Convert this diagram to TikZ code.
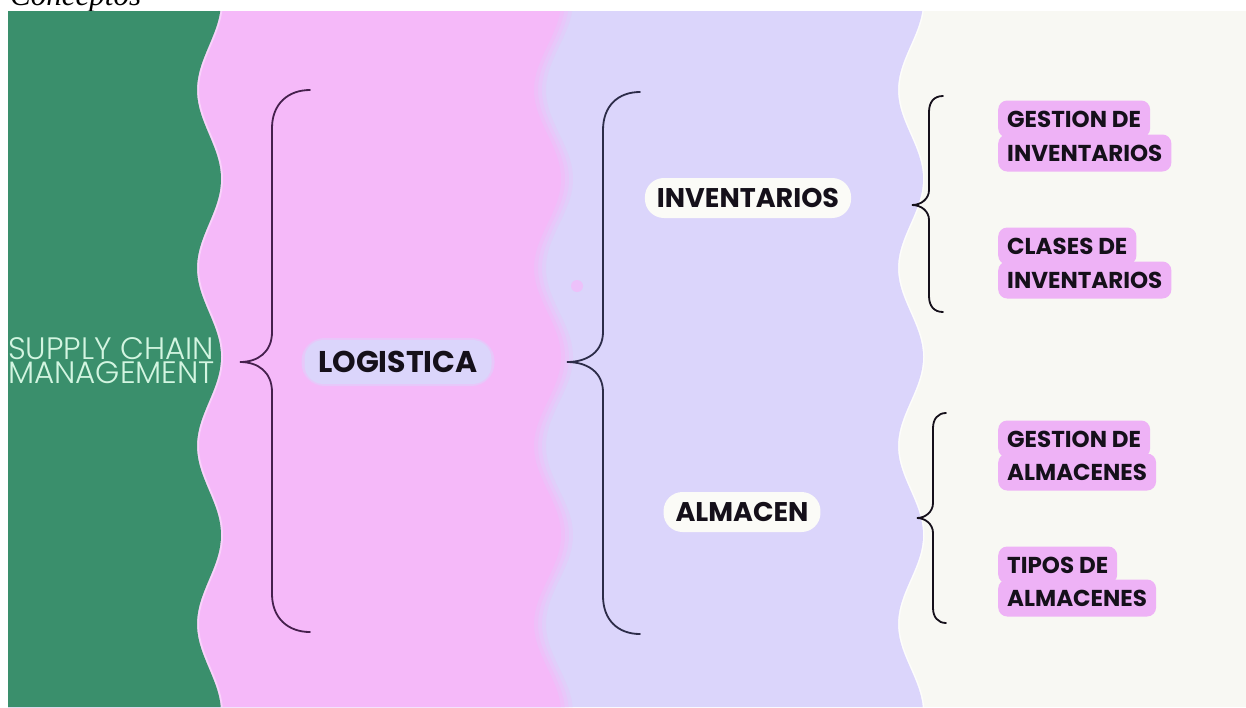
\documentclass[tikz,border=0pt]{standalone}
\usepackage{fontspec}
\setmainfont{Liberation Serif}
\newfontfamily\labfont{Poppins}
\IfFontExistsTF{Poppins Light}{\newfontfamily\scmfont{Poppins Light}}{\newfontfamily\scmfont{Lato}}
\definecolor{cgreen}{HTML}{3A8F6C}
\definecolor{cpink}{HTML}{F5B9F9}
\definecolor{clav}{HTML}{DBD5FB}
\definecolor{coff}{HTML}{F8F8F3}
\definecolor{cmint}{HTML}{D3F5E1}
\definecolor{cpill}{HTML}{EEB2F6}
\definecolor{cwpill}{HTML}{FBFBF7}
\definecolor{cplum}{HTML}{45204D}
\definecolor{cnavy}{HTML}{2C2C48}
\definecolor{ctext}{HTML}{15101A}
\begin{document}
\begin{tikzpicture}[x=1pt,y=-1pt,
  declare function={wg(\t)=209-12*cos((\t-90)*2.02247);
                    wp(\t)=553.5-13.5*cos((\t-90)*2.02247);
                    wl(\t)=910.5-12.5*cos((\t-90)*2.02247);},
  wave/.style={domain=11:707, samples=160, variable=\t, smooth},
  brc/.style={line width=1.8pt, line cap=round},
  bigpill/.style={rounded corners=19pt, minimum height=40pt, inner xsep=12pt, font=\labfont\bfseries\fontsize{27}{27}\selectfont, text=ctext},
  subpill/.style={fill=cpill, rounded corners=9pt, minimum height=37pt, inner xsep=9pt, anchor=west, font=\labfont\bfseries\fontsize{23}{23}\selectfont, text=ctext}]
\useasboundingbox (0,0) rectangle (1246,707);
\fill[white] (0,0) rectangle (1246,707);
\node[anchor=base west, inner sep=0, font=\itshape\fontsize{31}{31}\selectfont] (title) at (10,5) {Conceptos};
% panels
\fill[coff] (8,11) rectangle (1246,707);
\draw[white!70!coff, line width=3pt] plot[wave] ({wl(\t)},\t);
\fill[clav] (8,11) -- plot[wave] ({wl(\t)},\t) -- (8,707) -- cycle;
\fill[cpink!25!clav] (8,11) -- plot[wave] ({wp(\t)+6},\t) -- (8,707) -- cycle;
\fill[cpink!50!clav] (8,11) -- plot[wave] ({wp(\t)+2},\t) -- (8,707) -- cycle;
\fill[cpink!75!clav] (8,11) -- plot[wave] ({wp(\t)-2},\t) -- (8,707) -- cycle;
\fill[cpink] (8,11) -- plot[wave] ({wp(\t)-6},\t) -- (8,707) -- cycle;
\draw[cpink!65!white, line width=4pt] plot[wave] ({wg(\t)},\t);
\fill[cgreen] (8,11) -- plot[wave] ({wg(\t)},\t) -- (8,707) -- cycle;
\fill[cpink!70!clav] (577,286) circle (6);
% main text
\node[anchor=west, inner sep=0, align=left, text=cmint, font=\scmfont\fontsize{31}{24}\selectfont] (scm) at (8,361) {SUPPLY CHAIN\\MANAGEMENT};
\node[bigpill, fill=cpink!50!clav, minimum height=48pt, minimum width=193pt, rounded corners=23pt] at (398,362) {};
\node[bigpill, fill=clav, minimum height=44pt, minimum width=187pt, font=\labfont\bfseries\fontsize{30}{30}\selectfont] (logi) at (398,362) {LOGISTICA};
\node[bigpill, fill=cwpill, minimum width=200pt] (inv) at (748,198) {INVENTARIOS};
\node[bigpill, fill=cwpill, minimum width=155pt] (alm) at (742,512) {ALMACEN};
% sub labels
\node[subpill] (gi1) at (998,119) {GESTION DE};
\node[subpill] (gi2) at (998,153) {INVENTARIOS};
\node[subpill] (ci1) at (998,246) {CLASES DE};
\node[subpill] (ci2) at (998,280) {INVENTARIOS};
\node[subpill] (ga1) at (998,439) {GESTION DE};
\node[subpill] (ga2) at (998,472) {ALMACENES};
\node[subpill] (ta1) at (998,565) {TIPOS DE};
\node[subpill] (ta2) at (998,598) {ALMACENES};
% braces
\coordinate (b1) at (240,362);
\coordinate (b2) at (567,362);
\coordinate (b3) at (912,205);
\coordinate (b4) at (917,518);
\draw[brc, cplum] (310,90) .. controls (288,90) and (272,104) .. (272,128) -- (272,332) .. controls (272,352) and (258,362) .. (b1) .. controls (258,362) and (272,372) .. (272,392) -- (272,594) .. controls (272,618) and (288,632) .. (310,632);
\draw[brc, cnavy] (640,92) .. controls (618,92) and (603,106) .. (603,130) -- (603,332) .. controls (603,352) and (587,362) .. (b2) .. controls (587,362) and (603,372) .. (603,392) -- (603,596) .. controls (603,620) and (618,634) .. (640,634);
\draw[brc, ctext] (943,96) .. controls (934,96) and (929,102) .. (929,112) -- (929,190) .. controls (929,199) and (921,205) .. (b3) .. controls (921,205) and (929,211) .. (929,220) -- (929,296) .. controls (929,306) and (934,312) .. (943,312);
\draw[brc, ctext] (946,413) .. controls (938,413) and (933,419) .. (933,428) -- (933,503) .. controls (933,512) and (925,518) .. (b4) .. controls (925,518) and (933,524) .. (933,533) -- (933,608) .. controls (933,617) and (938,623) .. (946,623);
\end{tikzpicture}
\end{document}
